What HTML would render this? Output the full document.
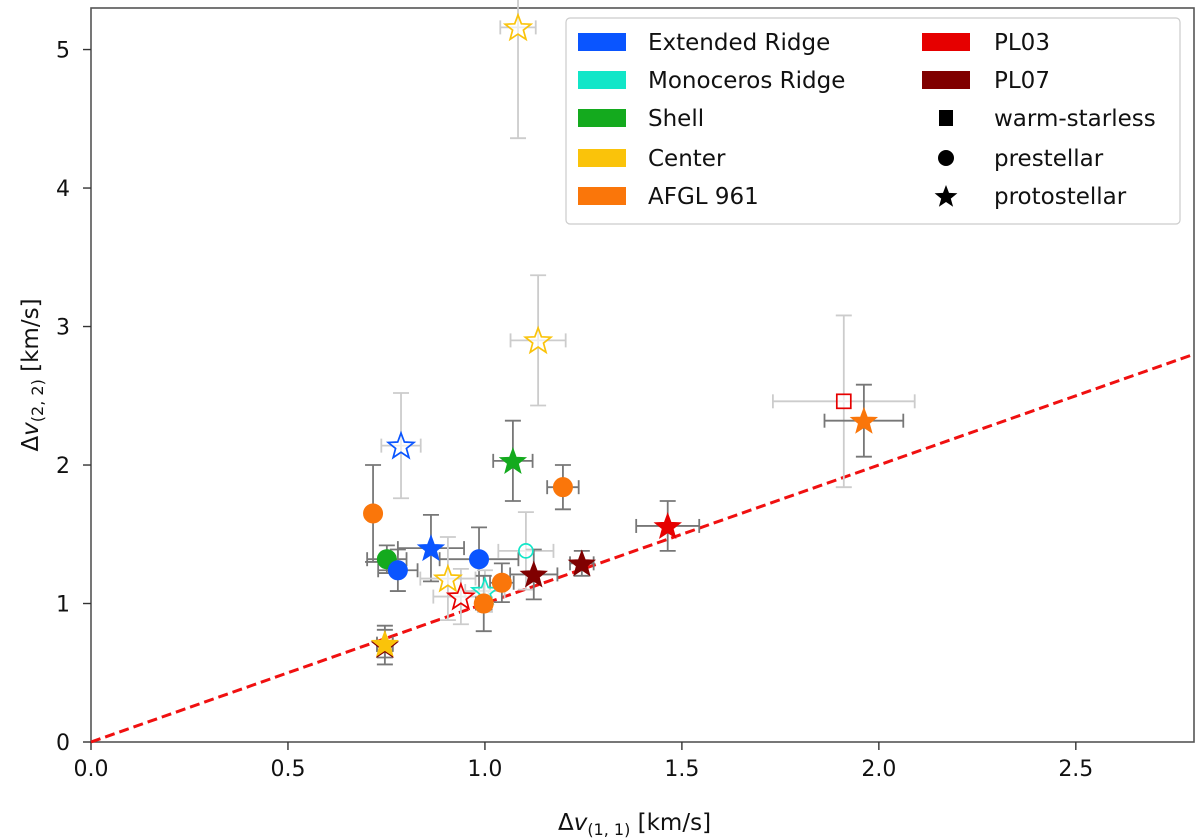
<!DOCTYPE html>
<html><head><meta charset="utf-8"><style>
body{margin:0;background:#fff;}
svg{display:block;font-family:"DejaVu Sans","Liberation Sans",sans-serif;}
</style></head><body>
<svg id="chart" width="1200" height="840" viewBox="0 0 1200 840">
<g id="grid"></g>
<g id="marks"></g>
<g id="legend"></g>
</svg>
<script>
// data
const xVals = [1.084,1.135,0.787,1.071,1.198,0.716,0.751,0.779,0.863,0.985,1.104,0.906,0.939,1.000,0.997,1.043,1.124,1.246,1.464,1.911,1.962,0.746,0.746];
const yVals = [5.16,2.90,2.14,2.03,1.84,1.65,1.32,1.24,1.40,1.32,1.38,1.18,1.05,1.09,1.00,1.15,1.21,1.29,1.56,2.46,2.32,0.70,0.71];
const xErrs = [0.045,0.07,0.05,0.05,0.04,0.01,0.05,0.05,0.084,0.1,0.07,0.07,0.07,0.05,0.02,0.03,0.06,0.03,0.08,0.18,0.1,0.02,0.02];
const yErrs = [0.8,0.47,0.38,0.29,0.16,0.35,0.1,0.15,0.24,0.23,0.28,0.3,0.2,0.15,0.2,0.14,0.18,0.09,0.18,0.62,0.26,0.14,0.1];
const regions = ["Center","Center","Extended Ridge","Shell","AFGL 961","AFGL 961","Shell","Extended Ridge","Extended Ridge","Extended Ridge","Monoceros Ridge","Center","PL03","Monoceros Ridge","AFGL 961","AFGL 961","PL07","PL07","PL03","PL03","AFGL 961","PL07","Center"];
const types = ["star","star","star","star","circle","circle","circle","circle","star","circle","circle","star","star","star","circle","circle","star","star","star","square","star","star","star"];
const filled = [0,0,0,1,1,1,1,1,1,1,0,0,0,0,1,1,1,1,1,0,1,1,1];
const xTicks = [0,0.5,1.0,1.5,2.0,2.5];
const xTickLabels = ["0.0","0.5","1.0","1.5","2.0","2.5"];
const yTicks = [0,1,2,3,4,5];
const legendRegions = ["Extended Ridge","Monoceros Ridge","Shell","Center","AFGL 961","PL03","PL07"];
const legendColors = ["#0a55ff","#12e6c8","#14aa1e","#fac30a","#fa760a","#e60000","#800000"];

const X0=91,X1=1194,Y0=742,Y1=8, XMAX=2.8, YMAX=5.3;
const sx=v=>X0+v/XMAX*(X1-X0);
const sy=v=>Y0-v/YMAX*(Y0-Y1);
const NS="http://www.w3.org/2000/svg";
function mk(tag,attrs,parent,text){const e=document.createElementNS(NS,tag);for(const k in attrs)e.setAttribute(k,attrs[k]);if(text!==undefined)e.textContent=text;parent.appendChild(e);return e;}
const colorOf=r=>legendColors[legendRegions.indexOf(r)];
function starPts(cx,cy,R){const r=R*0.42;let p=[];for(let i=0;i<10;i++){const a=-Math.PI/2+i*Math.PI/5;const rr=i%2?r:R;p.push((cx+rr*Math.cos(a)).toFixed(1)+","+(cy+rr*Math.sin(a)).toFixed(1));}return p.join(" ");}

const grid=document.getElementById('grid');
mk('rect',{x:X0,y:Y1,width:X1-X0,height:Y0-Y1,fill:'none',stroke:'#555','stroke-width':1.6},grid);
xTicks.forEach((t,i)=>{const x=sx(t);
 const l=mk('line',{x1:x,x2:x,y1:Y0,y2:Y0+8,stroke:'#333','stroke-width':1.4},grid);
 
 const tx=mk('text',{x:x,y:Y0+34,'font-size':22,'text-anchor':'middle',fill:'#111'},grid,xTickLabels[i]);
 });
yTicks.forEach(t=>{const y=sy(t);
 const l=mk('line',{x1:X0-8,x2:X0,y1:y,y2:y,stroke:'#333','stroke-width':1.4},grid);
 
 const tx=mk('text',{x:X0-21,y:y+8,'font-size':22,'text-anchor':'end',fill:'#111'},grid,String(t));
 });
const xl=mk('text',{x:(X0+X1)/2-8,y:830,'font-size':23,'text-anchor':'middle',fill:'#111'},grid);
xl.innerHTML='Δ<tspan font-style="italic">v</tspan><tspan font-size="16" dy="5">(1, 1)</tspan><tspan dy="-5"> [km/s]</tspan>';

const yl=mk('text',{x:0,y:0,'font-size':23,'text-anchor':'middle',fill:'#111',transform:`translate(38,${(Y0+Y1)/2}) rotate(-90)`},grid);
yl.innerHTML='Δ<tspan font-style="italic">v</tspan><tspan font-size="16" dy="5">(2, 2)</tspan><tspan dy="-5"> [km/s]</tspan>';


const marks=document.getElementById('marks');
const ref=mk('line',{x1:sx(0),y1:sy(0),x2:sx(XMAX),y2:sy(XMAX),stroke:'#f01010','stroke-width':3,'stroke-dasharray':'10,5'},marks);

xVals.forEach((xv,i)=>{const g=mk('g',{stroke:filled[i]?'#777':'#ccc','stroke-width':1.8,fill:'none'},marks);
 
 const cx=sx(xv),cy=sy(yVals[i]),xa=sx(xv-xErrs[i]),xb=sx(xv+xErrs[i]),ya=sy(yVals[i]-yErrs[i]),yb=sy(yVals[i]+yErrs[i]);
 mk('line',{x1:xa,x2:xb,y1:cy,y2:cy},g);mk('line',{x1:cx,x2:cx,y1:ya,y2:yb},g);
 mk('line',{x1:xa,x2:xa,y1:cy-7,y2:cy+7},g);mk('line',{x1:xb,x2:xb,y1:cy-7,y2:cy+7},g);
 mk('line',{x1:cx-8,x2:cx+8,y1:ya,y2:ya},g);mk('line',{x1:cx-8,x2:cx+8,y1:yb,y2:yb},g);});
xVals.forEach((xv,i)=>{const c=colorOf(regions[i]);const cx=sx(xv),cy=sy(yVals[i]);
 const st=filled[i]?{fill:c,stroke:c,'stroke-width':1}:{fill:'#fff','fill-opacity':0.6,stroke:c,'stroke-width':1.7};
 let m;
 if(types[i]==='star')m=mk('polygon',Object.assign({points:starPts(cx,cy+1,13.5)},st),marks);
 else if(types[i]==='circle')m=mk('circle',Object.assign({cx:cx,cy:cy,r:filled[i]?9.5:7},st),marks);
 else m=mk('rect',Object.assign({x:cx-7,y:cy-7,width:14,height:14},st),marks);
 });

const lg=document.getElementById('legend');
mk('rect',{x:566,y:18,width:614,height:206,rx:4,fill:'#fff',stroke:'#ccc','stroke-width':1.2},lg);
const rowsY=[42,80,118,158,196];
legendRegions.forEach((r,i)=>{const col=i<5?0:1,row=i<5?i:i-5;const px=col?922:578,tx=col?994:648;
 const p=mk('rect',{x:px,y:rowsY[row]-9,width:48,height:18,fill:legendColors[i]},lg);
 
 const t=mk('text',{x:tx,y:rowsY[row]+8,'font-size':23,fill:'#111'},lg,r);
 });
const shapes=["square","circle","star"],shapeLabels=["warm-starless","prestellar","protostellar"];
shapes.forEach((s,i)=>{const cy=rowsY[i+2],cx=946;let m;
 if(s==='square')m=mk('rect',{x:cx-7,y:cy-8,width:14,height:16,fill:'#000'},lg);
 else if(s==='circle')m=mk('circle',{cx:cx,cy:cy,r:8,fill:'#000'},lg);
 else m=mk('polygon',{points:starPts(cx,cy+1,12),fill:'#000'},lg);
 
 const t=mk('text',{x:994,y:cy+8,'font-size':23,fill:'#111'},lg,shapeLabels[i]);
 });
</script>
</body></html>
